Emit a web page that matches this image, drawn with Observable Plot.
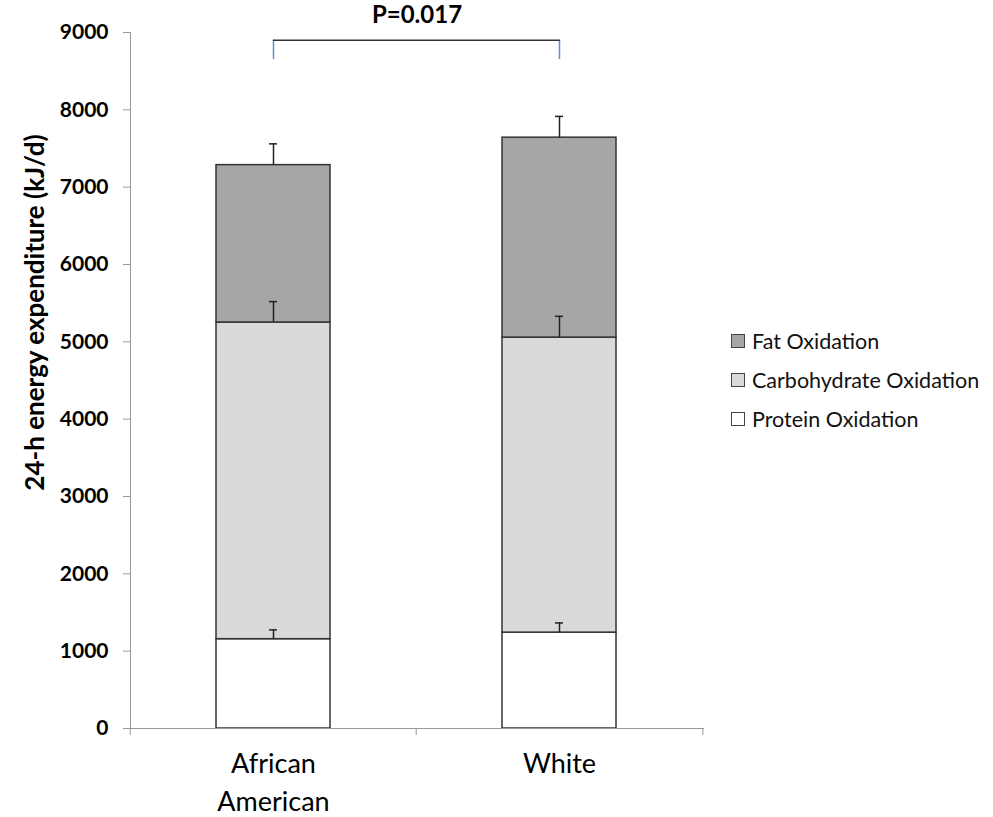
<!DOCTYPE html>
<html><head><meta charset="utf-8">
<script src="https://cdn.jsdelivr.net/npm/d3@7"></script>
<script src="https://cdn.jsdelivr.net/npm/@observablehq/plot@0.6"></script>
<style>
body{margin:0;background:#fff;font-family:Lato,"Open Sans",sans-serif;}
#wrap{position:relative;width:993px;height:817px;}
#legend{position:absolute;left:731px;top:321px;font-size:21.5px;color:#111;font-family:Lato,"Open Sans",sans-serif;}
.item{display:flex;align-items:center;height:39px;}
.sw{width:12px;height:12px;border:1px solid #444;margin-right:7px;box-sizing:content-box;}
</style></head><body><div id="wrap"><div id="legend"></div></div>
<script>
const categories = ["African American", "White"];
const components = ["Protein Oxidation", "Carbohydrate Oxidation", "Fat Oxidation"];
const protein = [1155, 1240];
const carbohydrate = [4095, 3815];
const fat = [2035, 2585];
const proteinSD = [120, 125];
const carbohydrateSD = [270, 275];
const fatSD = [275, 275];
const yTicks = [0, 1000, 2000, 3000, 4000, 5000, 6000, 7000, 8000, 9000];
const colors = ["#ffffff", "#d9d9d9", "#a6a6a6"];
const yLabel = "24-h energy expenditure (kJ/d)";
const pLabel = "P=0.017";
const bracketTop = 8900;
const bracketBottom = 8650;

const series = [protein, carbohydrate, fat];
const sds = [proteinSD, carbohydrateSD, fatSD];
const rows = [];
const errs = [];
categories.forEach((g, i) => {
  let cum = 0;
  components.forEach((c, j) => {
    rows.push({group: g, component: c, value: series[j][i]});
    cum += series[j][i];
    errs.push({group: g, top: cum, hi: cum + sds[j][i]});
  });
});

const chart = Plot.plot({
  width: 993,
  height: 817,
  marginTop: 32,
  marginBottom: 89,
  marginLeft: 130,
  marginRight: 290,
  style: {fontFamily: "Lato, 'Open Sans', sans-serif", color: "#000", background: "#fff"},
  x: {domain: categories, paddingInner: 0.6, paddingOuter: 0.3, axis: null},
  y: {domain: [0, 9000], axis: null},
  color: {domain: components, range: colors},
  marks: [
    Plot.barY(rows, {x: "group", y: "value", fill: "component", order: components, stroke: "#333", strokeWidth: 1.5}),
    Plot.ruleX(errs, {x: "group", y1: "top", y2: "hi", stroke: "#222", strokeWidth: 1.5}),
    Plot.tickY(errs, {x: "group", y: "hi", stroke: "#222", strokeWidth: 1.5, insetLeft: 53, insetRight: 53}),
    Plot.frame({anchor: "left", stroke: "#999"}),
    Plot.frame({anchor: "bottom", stroke: "#999"}),
    Plot.axisY({ticks: yTicks, tickSize: 7, tickPadding: 15, stroke: "#999", tickFormat: d => String(d), fontSize: 21, fontWeight: "bold", label: null}),
    Plot.axisX({tickSize: 7, stroke: "#999", text: null, dx: -143.3, label: null}),
    Plot.axisX({ticks: [categories[categories.length - 1]], tickSize: 7, stroke: "#999", text: null, dx: 143.3, label: null}),
    Plot.text(categories, {x: d => d, text: d => d.replace(" ", "\n"), frameAnchor: "bottom", lineAnchor: "top", dy: 18, fontSize: 27, lineHeight: 1.4, fill: "#000"}),
    Plot.text([yLabel], {frameAnchor: "top-left", rotate: -90, textAnchor: "middle", dx: -105, dy: 280, fontSize: 26, fontWeight: "bold", fill: "#000"}),
    Plot.ruleX(categories, {x: d => d, y1: bracketBottom, y2: bracketTop, stroke: "#5b8fd0", strokeWidth: 1.5}),
    Plot.line(categories.map(g => ({g, y: bracketTop})), {x: "g", y: "y", stroke: "#333", strokeWidth: 1.5}),
    Plot.text([pLabel], {frameAnchor: "top", dy: -17, lineAnchor: "middle", fontSize: 24, fontWeight: "bold", fill: "#000"})
  ]
});
document.getElementById("wrap").prepend(chart);

const legend = document.getElementById("legend");
[...components].reverse().forEach(c => {
  const it = document.createElement("div");
  it.className = "item";
  const sw = document.createElement("span");
  sw.className = "sw";
  sw.style.background = colors[components.indexOf(c)];
  const tx = document.createElement("span");
  tx.textContent = c;
  it.append(sw, tx);
  legend.append(it);
});
</script></body></html>
